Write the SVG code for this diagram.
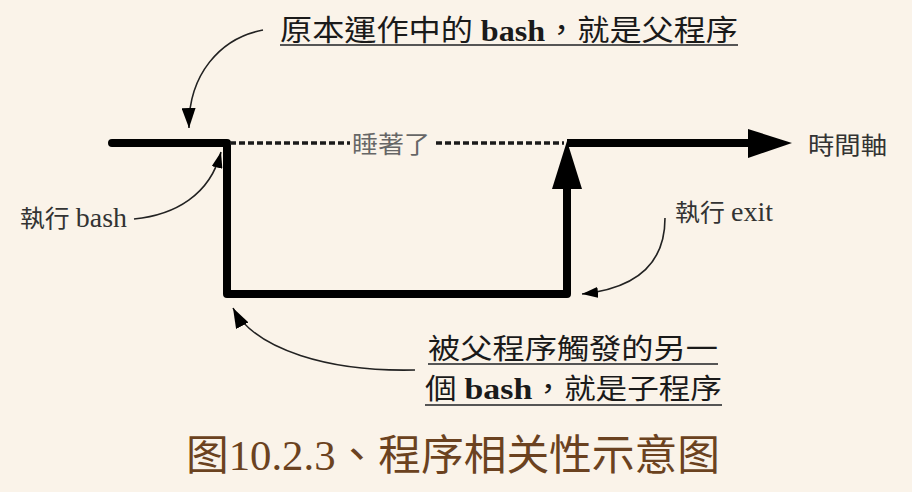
<svg xmlns="http://www.w3.org/2000/svg" width="912" height="492" viewBox="0 0 912 492">
<style>
text{font-family:"Liberation Serif","Noto Sans CJK TC",serif;}
.lbl{fill:#333;font-size:24px;}
.lat{font-size:27px;}
.big{fill:#1a1a1a;font-size:29px;}
.ul{stroke:#555;stroke-width:2;fill:none;}
.thick{stroke:#000;stroke-width:8;fill:none;stroke-linejoin:round;}
.thin{stroke:#222;stroke-width:1.6;fill:none;}
.dash{stroke:#1a1a1a;stroke-width:3.5;stroke-dasharray:6 3;fill:none;}
.cap{fill:#6b4220;font-size:42px;}
</style>
<defs>
<marker id="ah" viewBox="0 0 20 14" refX="20" refY="7" markerWidth="20" markerHeight="14" markerUnits="userSpaceOnUse" orient="auto">
<path d="M0,0 L20,7 L0,14 z" fill="#000"/>
</marker>
<marker id="ahs" viewBox="0 0 16 11" refX="16" refY="5.5" markerWidth="16" markerHeight="11" markerUnits="userSpaceOnUse" orient="auto">
<path d="M0,0 L16,5.5 L0,11 z" fill="#000"/>
</marker>
</defs>
<rect width="912" height="492" fill="#faf3e9"/>
<g id="timeline">
<path class="thick" d="M112,143 H227 V294 H567 V186" stroke-linecap="round"/>
<path class="thick" d="M567,143 H752"/>
<polygon points="748,129 792,143 748,158" fill="#000"/>
<polygon points="567,141 552,189 582,189" fill="#000"/>
<path class="dash" d="M230,143 H350"/>
<path class="dash" d="M436,143 H564"/>
</g>
<g id="connectors">
<path class="thin" d="M263,30 C220,38 188,75 189,128" marker-end="url(#ah)"/>
<path class="thin" d="M134,219 C175,215 210,195 221,152" marker-end="url(#ahs)"/>
<path class="thin" d="M665,218 C665,260 640,288 582,294" marker-end="url(#ahs)"/>
<path class="thin" d="M415,370 C330,372 255,350 233,308" marker-end="url(#ah)"/>
</g>
<g id="parent-label">
<text class="big" x="280" y="41" textLength="458" lengthAdjust="spacingAndGlyphs">原本運作中的 <tspan font-weight="bold">bash</tspan>，就是父程序</text>
<line class="ul" x1="280" y1="45" x2="738" y2="45"/>
</g>
<g id="sleep-label">
<text class="lbl" x="352" y="153" style="fill:#666" textLength="78" lengthAdjust="spacingAndGlyphs">睡著了</text>
</g>
<g id="time-label">
<text class="lbl" x="808" y="154" textLength="79" lengthAdjust="spacingAndGlyphs">時間軸</text>
</g>
<g id="exec-bash">
<text class="lbl" x="20" y="227" textLength="107" lengthAdjust="spacingAndGlyphs">執行 <tspan class="lat">bash</tspan></text>
</g>
<g id="exec-exit">
<text class="lbl" x="675" y="221" textLength="98" lengthAdjust="spacingAndGlyphs">執行 <tspan class="lat">exit</tspan></text>
</g>
<g id="child-label">
<text class="big" x="428" y="359" style="font-size:28px" textLength="290" lengthAdjust="spacingAndGlyphs">被父程序觸發的另一</text>
<line class="ul" x1="428" y1="364" x2="718" y2="364"/>
<text class="big" x="425" y="399" style="font-size:28px" textLength="297" lengthAdjust="spacingAndGlyphs">個 <tspan font-weight="bold" style="font-size:30px">bash</tspan>，就是子程序</text>
<line class="ul" x1="425" y1="405" x2="722" y2="405"/>
</g>
<g id="caption">
<text class="cap" x="186" y="470" textLength="534" lengthAdjust="spacingAndGlyphs">图10.2.3、程序相关性示意图</text>
</g>
</svg>
